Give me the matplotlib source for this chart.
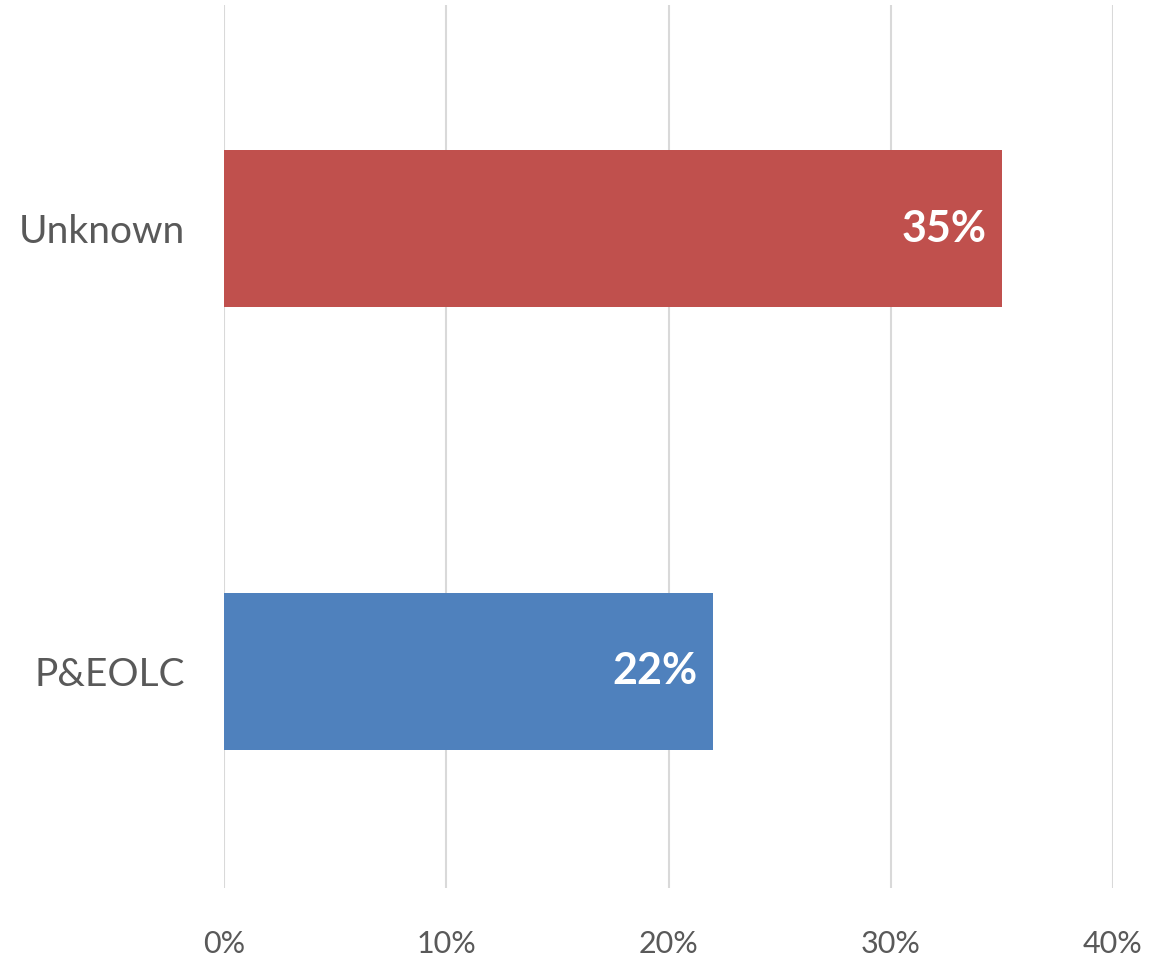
import matplotlib.pyplot as plt
import matplotlib.ticker as mticker

plt.rcParams['font.family'] = ['Lato', 'DejaVu Sans']

# Data
categories = ['P&EOLC', 'Unknown']
values = [22, 35]
colors = ['#4F81BD', '#C0504D']
x_ticks = [0, 10, 20, 30, 40]

fig = plt.figure(figsize=(11.7, 9.61), dpi=100)
ax = fig.add_axes([224 / 1170, 73 / 961, 889 / 1170, 883 / 961])

y_pos = list(range(len(categories)))
bars = ax.barh(y_pos, values, height=0.355, color=colors, zorder=3)

for b, v in zip(bars, values):
    ax.text(b.get_width() - 0.7, b.get_y() + b.get_height() / 2, f'{v}%',
            ha='right', va='center', color='white', fontsize=31,
            fontweight='bold', zorder=4)

ax.set_xlim(0, 40)
ax.set_ylim(-0.49, 1.505)
ax.set_xticks(x_ticks)
ax.xaxis.set_major_formatter(mticker.FuncFormatter(lambda x, p: f'{x:.0f}%'))
ax.set_yticks(y_pos)
ax.set_yticklabels(categories)

ax.grid(axis='x', color='#D9D9D9', linewidth=1.5, zorder=0)
for s in ax.spines.values():
    s.set_visible(False)
ax.tick_params(axis='x', length=0, pad=30, labelsize=22, labelcolor='#595959')
ax.tick_params(axis='y', length=0, pad=28, labelsize=28, labelcolor='#595959')

fig.savefig('out.png', dpi=100)
